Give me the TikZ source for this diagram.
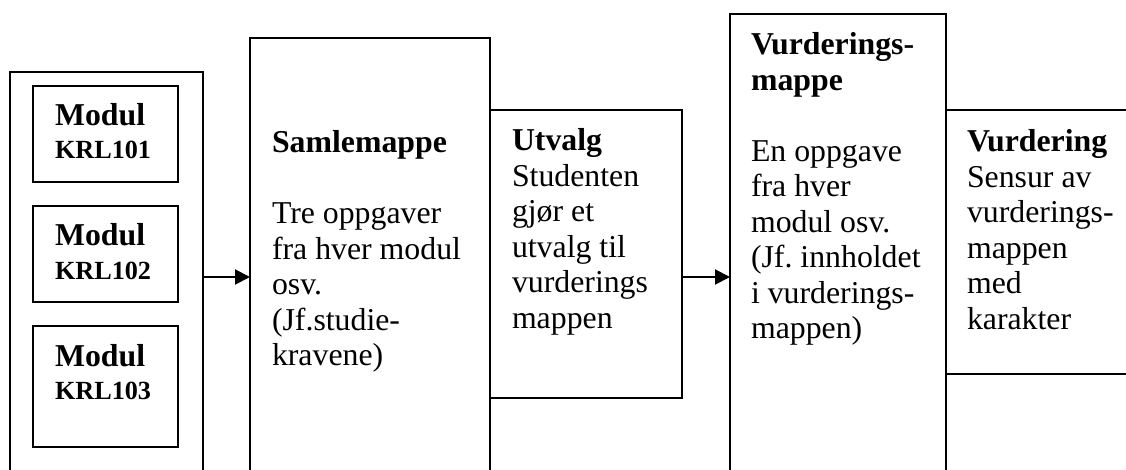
\documentclass[tikz,border=0pt]{standalone}
\usepackage{fontspec}
\setmainfont{Liberation Serif}
\usetikzlibrary{arrows.meta,calc}
\newcommand\bodyfont{\fontsize{31.8}{35.5}\selectfont}
\newcommand\modfont{\fontsize{31.8}{33}\selectfont\bfseries}
\newcommand\krlfont{\fontsize{26.2}{33}\selectfont\bfseries}
\tikzset{
  box/.style={draw, line width=2pt, inner sep=0pt, outer sep=0pt, anchor=north west},
  txt/.style={anchor=base west, inner sep=0pt, outer sep=0pt, font=\bodyfont},
  modtxt/.style={anchor=base west, inner sep=0pt, outer sep=0pt, font=\modfont},
  arr/.style={line width=2pt, -{Triangle[length=15pt,width=15pt]}},
}
\begin{document}
\frenchspacing
\begin{tikzpicture}[x=1pt,y=-1pt]
\useasboundingbox (0,0) rectangle (1126,470);
\clip (0,0) rectangle (1126,470);
% boxes
\node[box, minimum width=193pt, minimum height=410pt] (outer) at (10,72) {};
\node[box, minimum width=145pt, minimum height=96pt] (mod1) at (33,86) {};
\node[box, minimum width=145pt, minimum height=96pt] (mod2) at (33,206) {};
\node[box, minimum width=145pt, minimum height=121pt] (mod3) at (33,326) {};
\node[box, minimum width=240pt, minimum height=445pt] (sam) at (250,38) {};
\node[box, minimum width=192pt, minimum height=288pt] (utv) at (490,110) {};
\node[box, minimum width=216pt, minimum height=470pt] (vm) at (730,14) {};
\node[box, minimum width=200pt, minimum height=264pt] (vur) at (946,110) {};
% texts
\node[modtxt] (t1) at ($(mod1.north west)+(22,40)$) {\begin{tabular}[t]{@{}l@{}}Modul\\ \krlfont KRL101\end{tabular}};
\node[modtxt] (t2) at ($(mod2.north west)+(22,40)$) {\begin{tabular}[t]{@{}l@{}}Modul\\ \krlfont KRL102\end{tabular}};
\node[modtxt] (t3) at ($(mod3.north west)+(22,40)$) {\begin{tabular}[t]{@{}l@{}}Modul\\ \krlfont KRL103\end{tabular}};
\node[txt] (tsam) at ($(sam.north west)+(22,115)$) {\begin{tabular}[t]{@{}l@{}}\textbf{Samlemappe}\\ \\ Tre oppgaver\\ fra hver modul\\ osv.\\ (Jf.studie-\\ kravene)\end{tabular}};
\node[txt] (tutv) at ($(utv.north west)+(22,41)$) {\begin{tabular}[t]{@{}l@{}}\textbf{Utvalg}\\ Studenten\\ gjør et\\ utvalg til\\ vurderings\\ mappen\end{tabular}};
\node[txt] (tvm) at ($(vm.north west)+(21,41)$) {\begin{tabular}[t]{@{}l@{}}\textbf{Vurderings-}\\ \textbf{mappe}\\ \\ En oppgave\\ fra hver\\ modul osv.\\ (Jf. innholdet\\ i vurderings-\\ mappen)\end{tabular}};
\node[txt] (tvur) at ($(vur.north west)+(21,42)$) {\begin{tabular}[t]{@{}l@{}}\textbf{Vurdering}\\ Sensur av\\ vurderings-\\ mappen\\ med\\ karakter\end{tabular}};
% arrows
\draw[arr] (outer.east) -- (outer.east -| sam.west);
\draw[arr] (utv.east |- outer.east) -- (vm.west |- outer.east);
\end{tikzpicture}
\end{document}
